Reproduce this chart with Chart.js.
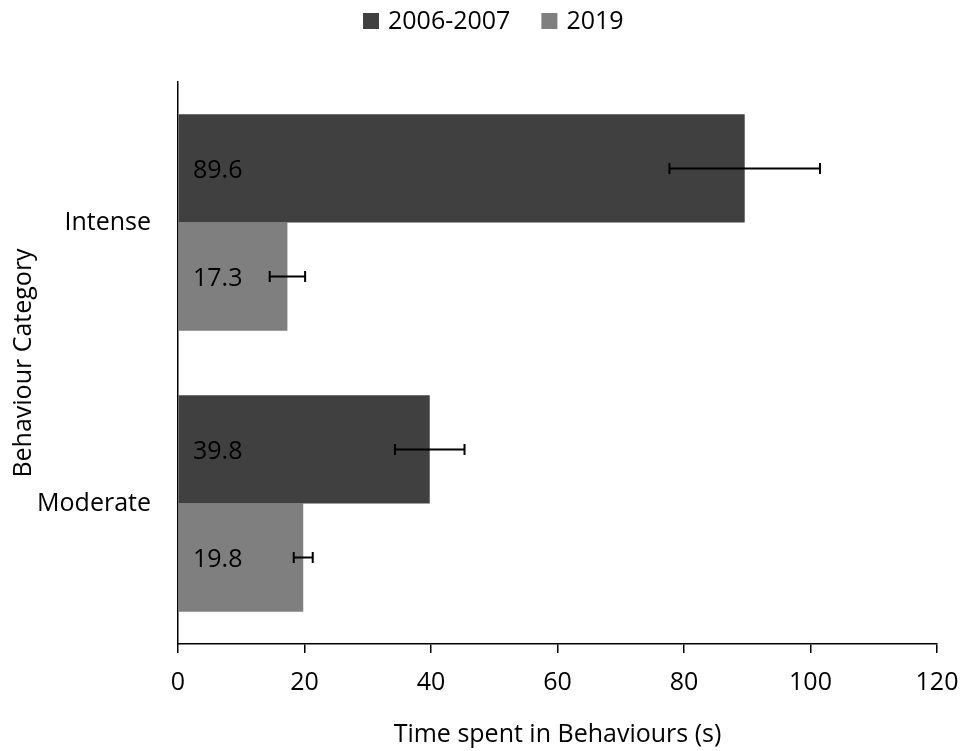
<!DOCTYPE html>
<html>
<head>
<meta charset="utf-8">
<script src="https://cdn.jsdelivr.net/npm/chart.js@4/dist/chart.umd.min.js"></script>
<style>
  html, body { margin: 0; padding: 0; background: #ffffff; }
  #wrap { width: 963px; height: 751px; }
</style>
</head>
<body>
<div id="wrap"><canvas id="c" width="963" height="751"></canvas></div>
<script>
// Behaviour categories and mean time spent (s), with standard errors
const categories = ['Intense', 'Moderate'];
const seriesLabels = ['2006-2007', '2019'];
const values2006 = [89.6, 39.8];
const values2019 = [17.3, 19.8];
const errors2006 = [11.9, 5.5];
const errors2019 = [2.8, 1.5];
const xTicks = [0, 20, 40, 60, 80, 100, 120];

const FONT = "'Open Sans', 'Liberation Sans', sans-serif";
const FS = 25;

// Error bars, value labels and the legend drawn on top of the bars
const overlay = {
  id: 'overlay',
  afterDatasetsDraw(chart) {
    const ctx = chart.ctx;
    const xs = chart.scales.x;
    const errs = [errors2006, errors2019];
    chart.data.datasets.forEach((ds, di) => {
      const meta = chart.getDatasetMeta(di);
      meta.data.forEach((bar, i) => {
        const v = ds.data[i];
        const e = errs[di][i];
        const y = bar.y;
        // value label near the base of the bar
        ctx.save();
        ctx.fillStyle = '#000';
        ctx.font = FS + 'px ' + FONT;
        ctx.textAlign = 'left';
        ctx.textBaseline = 'middle';
        ctx.fillText(v.toFixed(1), xs.getPixelForValue(0) + 15, y + 2);
        // error bar
        const x1 = xs.getPixelForValue(v - e);
        const x2 = xs.getPixelForValue(v + e);
        ctx.strokeStyle = '#000';
        ctx.lineWidth = 2;
        ctx.beginPath();
        ctx.moveTo(x1, y); ctx.lineTo(x2, y);
        ctx.moveTo(x1, y - 5.5); ctx.lineTo(x1, y + 5.5);
        ctx.moveTo(x2, y - 5.5); ctx.lineTo(x2, y + 5.5);
        ctx.stroke();
        ctx.restore();
      });
    });
  },
  afterDraw(chart) {
    // legend centred above the plot
    const ctx = chart.ctx;
    ctx.save();
    ctx.font = FS + 'px ' + FONT;
    const box = 16, gapText = 9, gapItem = 31;
    const items = chart.data.datasets.map(ds => ({ text: ds.label, color: ds.backgroundColor, w: ctx.measureText(ds.label).width }));
    let x = 363;
    const cy = 21;
    items.forEach(it => {
      ctx.fillStyle = it.color;
      ctx.fillRect(x, cy - box / 2, box, box);
      ctx.fillStyle = '#000';
      ctx.textAlign = 'left';
      ctx.textBaseline = 'middle';
      ctx.fillText(it.text, x + box + gapText, cy + 1);
      x += box + gapText + it.w + gapItem;
    });
    ctx.restore();
  }
};

new Chart(document.getElementById('c'), {
  type: 'bar',
  data: {
    labels: categories,
    datasets: [
      { label: seriesLabels[0], data: values2006, backgroundColor: '#404040', borderWidth: 0 },
      { label: seriesLabels[1], data: values2019, backgroundColor: '#7f7f7f', borderWidth: 0 }
    ]
  },
  options: {
    indexAxis: 'y',
    responsive: false,
    animation: false,
    devicePixelRatio: 1,
    layout: { padding: { top: 82, right: 26, left: 0, bottom: 0 } },
    datasets: { bar: { categoryPercentage: 0.77, barPercentage: 1 } },
    plugins: {
      legend: { display: false },
      tooltip: { enabled: false }
    },
    scales: {
      x: {
        type: 'linear',
        min: 0, max: 120,
        afterBuildTicks: s => { s.ticks = xTicks.map(v => ({ value: v })); },
        afterFit: s => { s.height = 107; s.paddingLeft = 0; s.paddingRight = 0; },
        border: { display: true, color: '#000', width: 1.5 },
        grid: { display: true, drawOnChartArea: false, drawTicks: true, tickLength: 9, color: '#000', lineWidth: 1.5 },
        ticks: { color: '#000', font: { family: FONT, size: FS }, padding: 15, maxRotation: 0 },
        title: { display: true, text: 'Time spent in Behaviours (s)', color: '#000', font: { family: FONT, size: FS }, padding: { top: 0, bottom: 1 } }
      },
      y: {
        afterFit: s => { s.width = 178; s.paddingTop = 0; s.paddingBottom = 0; },
        border: { display: true, color: '#000', width: 1.5 },
        grid: { display: false, drawTicks: false },
        ticks: { color: '#000', font: { family: FONT, size: FS }, padding: 27 },
        title: { display: true, text: 'Behaviour Category', color: '#000', font: { family: FONT, size: FS }, padding: { top: 9, bottom: 0 } }
      }
    }
  },
  plugins: [overlay]
});
</script>
</body>
</html>
